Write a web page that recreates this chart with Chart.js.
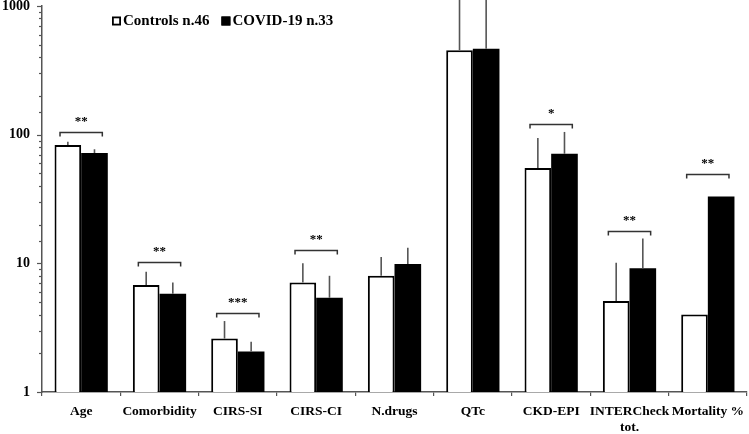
<!DOCTYPE html>
<html><head><meta charset="utf-8">
<script src="https://cdn.jsdelivr.net/npm/chart.js@4/dist/chart.umd.min.js"></script>
<style>html,body{margin:0;padding:0;background:#fff}#wrap{width:749px;height:434px;position:relative}</style>
</head><body><div id="wrap"><canvas id="c"></canvas></div>
<script>
const categories = ["Age", "Comorbidity", "CIRS-SI", "CIRS-CI", "N.drugs", "QTc", "CKD-EPI", ["INTERCheck", "tot."], "Mortality %"];
const controlsLabel = "Controls n.46";
const covidLabel = "COVID-19 n.33";
const controlsMean = [83, 6.8, 2.6, 7.1, 8.0, 454, 55, 5.1, 4.0];
const controlsErrTop = [88, 8.6, 3.56, 10.0, 11.2, 1500, 94, 10.1, null];
const covidMean = [72, 5.8, 2.06, 5.4, 9.9, 465, 71, 9.15, 33];
const covidErrTop = [77, 7.1, 2.46, 8.0, 13.2, 1500, 105, 15.6, null];
const sigLabels = ["**", "**", "***", "**", "", "", "*", "**", "**"];
const sigLevels = [105, 10.3, 4.13, 12.7, null, null, 122, 17.8, 49.4];
const yMajorTicks = [1, 10, 100, 1000];

const FONT = "'Liberation Serif', 'Times New Roman', serif";
const errTops = [controlsErrTop, covidErrTop];

const customPlugin = {
  id: 'custom',
  afterDatasetsDraw(chart) {
    const ctx = chart.ctx;
    const x = chart.scales.x, y = chart.scales.y;
    const area = chart.chartArea;
    // error bars
    ctx.save();
    ctx.beginPath();
    ctx.rect(area.left, 0, area.right - area.left, area.bottom);
    ctx.clip();
    ctx.strokeStyle = '#555';
    ctx.lineWidth = 1.6;
    chart.data.datasets.forEach((ds, di) => {
      const meta = chart.getDatasetMeta(di);
      meta.data.forEach((bar, i) => {
        const top = errTops[di][i];
        if (top == null) return;
        const y0 = y.getPixelForValue(ds.data[i]);
        const y1 = y.getPixelForValue(top);
        ctx.beginPath();
        ctx.moveTo(bar.x, y0);
        ctx.lineTo(bar.x, y1);
        ctx.stroke();
      });
    });
    ctx.restore();
    // significance brackets
    ctx.save();
    ctx.strokeStyle = '#333';
    ctx.lineWidth = 1.5;
    ctx.fillStyle = '#000';
    ctx.textAlign = 'center';
    ctx.textBaseline = 'middle';
    ctx.font = "bold 13px " + FONT;
    const cw = (area.right - area.left) / categories.length;
    sigLevels.forEach((lv, i) => {
      if (lv == null) return;
      const cx = x.getPixelForValue(i);
      const py = Math.round(y.getPixelForValue(lv)) + 0.5;
      const l = cx - 0.27 * cw, r = cx + 0.27 * cw;
      ctx.beginPath();
      ctx.moveTo(l, py + 4);
      ctx.lineTo(l, py);
      ctx.lineTo(r, py);
      ctx.lineTo(r, py + 4);
      ctx.stroke();
      ctx.fillText(sigLabels[i], cx, py - 11);
    });
    ctx.restore();
    // y-axis minor/major ticks
    ctx.save();
    ctx.strokeStyle = '#555';
    ctx.lineWidth = 1.2;
    y.ticks.forEach(t => {
      const major = yMajorTicks.includes(t.value);
      const py = Math.round(y.getPixelForValue(t.value)) + 0.5;
      ctx.beginPath();
      ctx.moveTo(area.left - (major ? 5 : 3), py);
      ctx.lineTo(area.left, py);
      ctx.stroke();
    });
    ctx.restore();
    // legend
    ctx.save();
    ctx.font = "bold 15px " + FONT;
    ctx.textBaseline = 'middle';
    ctx.textAlign = 'left';
    let lx = 112;
    const ly = 21;
    chart.data.datasets.forEach((ds, di) => {
      ctx.fillStyle = ds.backgroundColor;
      ctx.fillRect(lx, ly - 4.5, 9, 9);
      ctx.strokeStyle = '#000';
      ctx.lineWidth = 1.8;
      ctx.strokeRect(lx + 0.9, ly - 3.6, 7.2, 7.2);
      ctx.fillStyle = '#000';
      ctx.fillText(ds.label, lx + 11, ly);
      lx += 11 + ctx.measureText(ds.label).width + 12;
    });
    ctx.restore();
  }
};

new Chart(document.getElementById('c'), {
  type: 'bar',
  data: {
    labels: categories,
    datasets: [
      { label: controlsLabel, data: controlsMean, backgroundColor: '#ffffff', borderColor: '#000', borderWidth: 2, borderSkipped: 'bottom' },
      { label: covidLabel, data: covidMean, backgroundColor: '#000000', borderColor: '#000', borderWidth: 0 }
    ]
  },
  options: {
    responsive: true,
    maintainAspectRatio: false,
    animation: false,
    devicePixelRatio: 1,
    layout: { padding: { top: 6, right: 2, left: 0, bottom: 0 } },
    datasets: { bar: { categoryPercentage: 0.68, barPercentage: 1.0 } },
    plugins: { legend: { display: false }, tooltip: { enabled: false } },
    scales: {
      x: {
        grid: { display: true, drawOnChartArea: false, drawTicks: true, tickLength: 4, color: '#555', offset: true, lineWidth: 1.2 },
        border: { display: true, color: '#555', width: 1.5 },
        ticks: { color: '#000', font: { family: FONT, size: 13.5, weight: 'bold' }, padding: 7, maxRotation: 0, autoSkip: false },
        afterFit(s) { s.height = 42; s.paddingLeft = 0; s.paddingRight = 0; }
      },
      y: {
        type: 'logarithmic',
        min: 1, max: 1000,
        grid: { display: false, drawTicks: false },
        border: { display: true, color: '#555', width: 1.5 },
        ticks: {
          color: '#000', padding: 12,
          font: { family: FONT, size: 14, weight: 'bold' },
          autoSkip: false,
          callback: (v) => yMajorTicks.includes(v) ? String(v) : ''
        },
        afterFit(s) { s.width = 42; s.paddingTop = 0; s.paddingBottom = 0; }
      }
    }
  },
  plugins: [customPlugin]
});
</script></body></html>
